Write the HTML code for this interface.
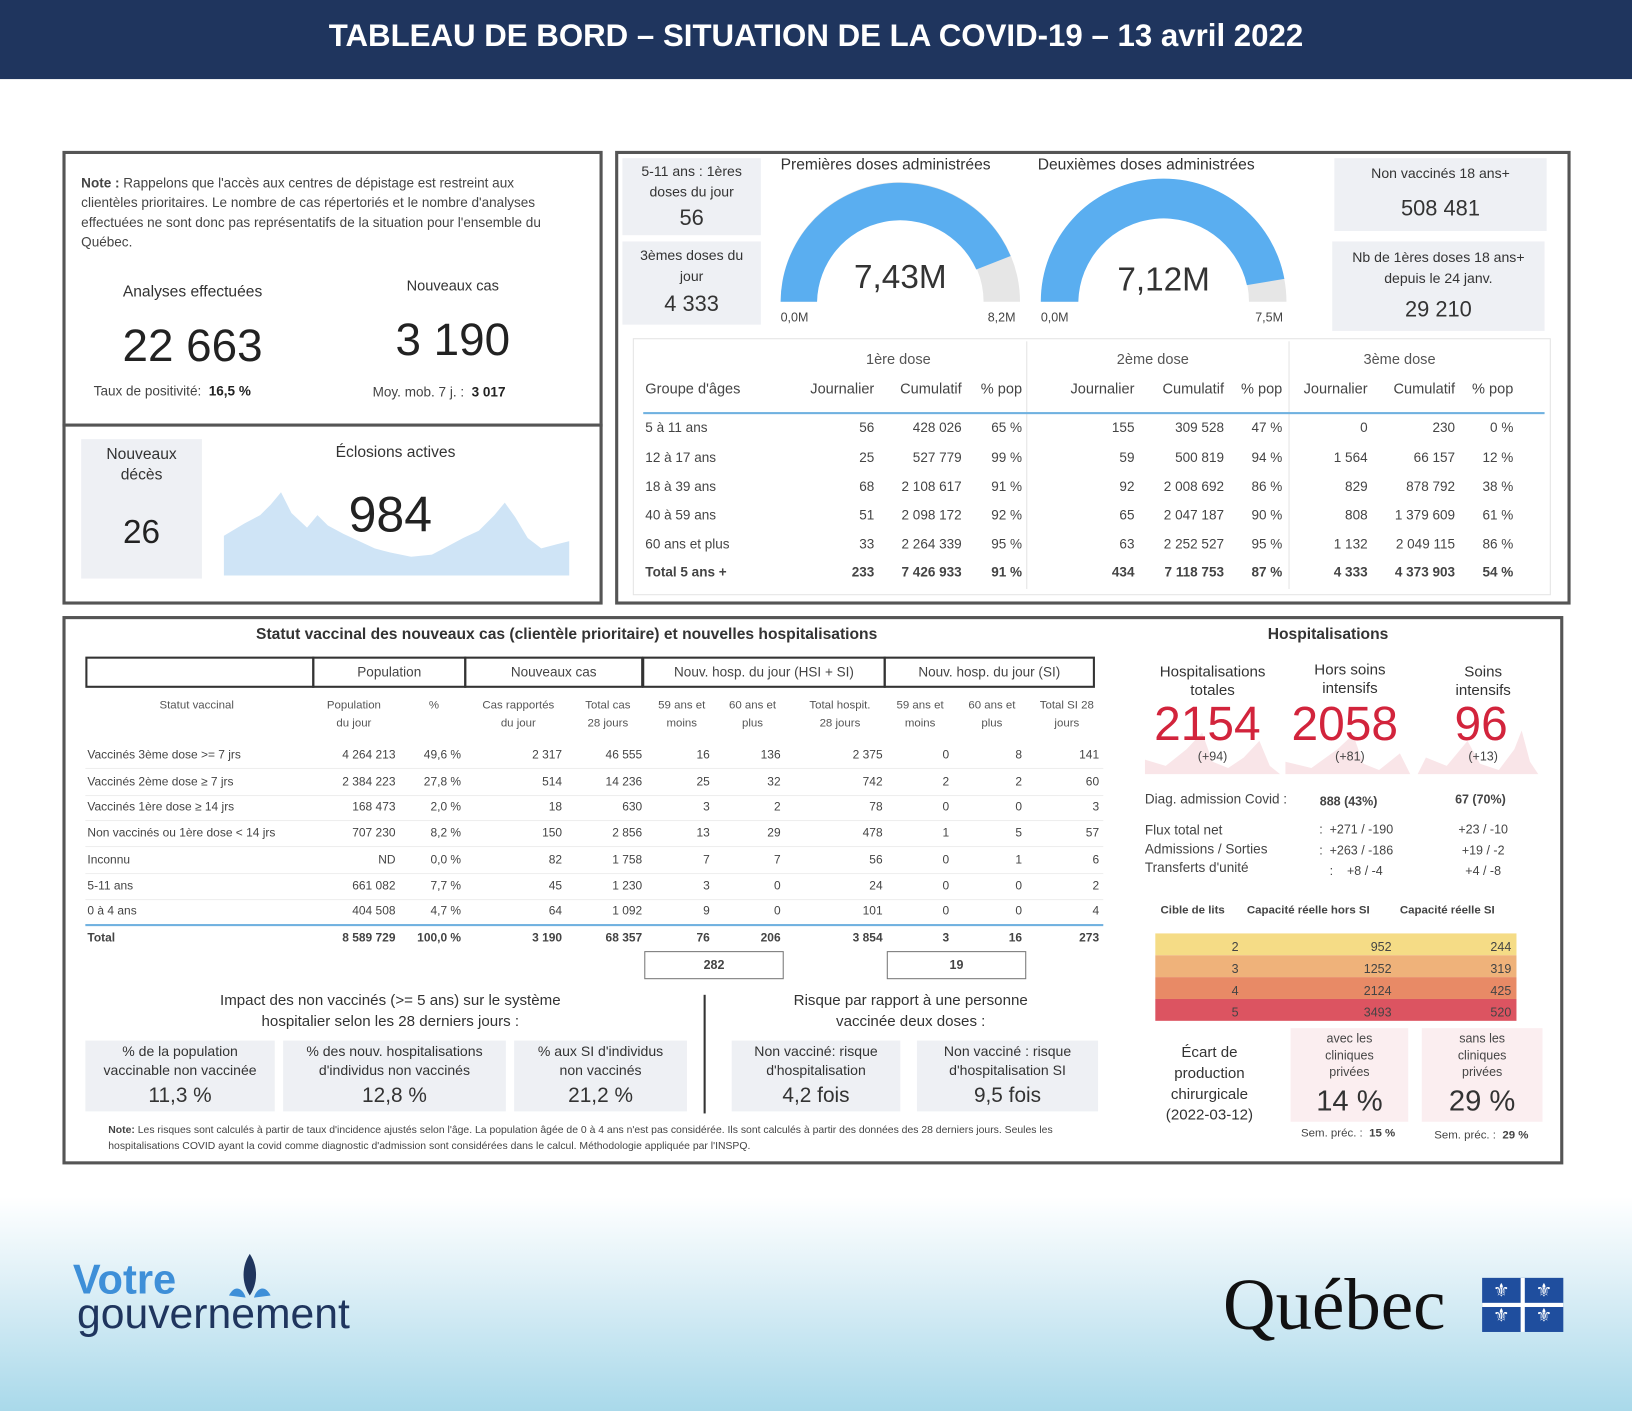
<!DOCTYPE html>
<html><head><meta charset="utf-8"><style>
*{margin:0;padding:0;box-sizing:border-box}
html,body{width:1632px;height:1411px;overflow:hidden;background:#fff}
#w{position:absolute;left:0;top:0;width:1568px;height:1356px;transform:scale(1.04082,1.0406);transform-origin:0 0;font-family:"Liberation Sans",sans-serif;color:#333;background:linear-gradient(#fff 0,#fff 1150px,#dff0f7 1230px,#a9d9ea 1356px)}
.a{position:absolute;white-space:nowrap}
.box{position:absolute;border:3px solid #555;background:#fff}
.c{text-align:center}
.r{text-align:right}
.card{position:absolute;background:#eef0f4}
.s{font-size:12px;color:#444}
</style></head><body><div id="w">
<div class="a" style="left:0;top:0;width:1568px;height:76px;background:#1f355e"></div>
<div class="a c" style="left:0;top:18px;width:1568px;color:#fff;font-weight:bold;font-size:30px">TABLEAU DE BORD – SITUATION DE LA COVID-19 – 13 avril 2022</div>

<div class="box" style="left:60px;top:145px;width:519px;height:265px"></div>
<div class="box" style="left:60px;top:407px;width:519px;height:174px"></div>
<div class="a s" style="left:78px;top:166px;white-space:normal;width:472px;line-height:19px;font-size:13px"><b>Note :</b> Rappelons que l'accès aux centres de dépistage est restreint aux clientèles prioritaires. Le nombre de cas répertoriés et le nombre d'analyses effectuées ne sont donc pas représentatifs de la situation pour l'ensemble du Québec.</div>
<div class="a c" style="left:85px;top:272px;width:200px;font-size:15px">Analyses effectuées</div>
<div class="a c" style="left:335px;top:266px;width:200px;font-size:14px">Nouveaux cas</div>
<div class="a c" style="left:85px;top:308px;width:200px;font-size:44px;color:#222">22 663</div>
<div class="a c" style="left:335px;top:302px;width:200px;font-size:44px;color:#222">3 190</div>
<div class="a s" style="left:90px;top:368px;font-size:13px">Taux de positivité: &nbsp;<b style="color:#222">16,5 %</b></div>
<div class="a s" style="left:358px;top:369px;font-size:13px">Moy. mob. 7 j. : &nbsp;<b style="color:#222">3 017</b></div>
<div class="card" style="left:78px;top:422px;width:116px;height:134px"></div>
<div class="a c" style="left:78px;top:427px;width:116px;font-size:15px;line-height:20px">Nouveaux<br>décès</div>
<div class="a c" style="left:78px;top:493px;width:116px;font-size:32px;color:#222">26</div>
<div class="a c" style="left:280px;top:426px;width:200px;font-size:15px">Éclosions actives</div>
<svg class="a" style="left:215px;top:465px" width="332" height="88"><path d="M0 88 L0 50 L20 38 L35 30 L45 20 L55 8 L65 28 L80 42 L90 30 L100 40 L115 48 L130 55 L145 62 L160 66 L180 70 L200 68 L215 60 L230 52 L245 45 L260 30 L270 18 L280 32 L292 52 L305 62 L320 58 L332 55 L332 88Z" fill="#cfe4f6"/></svg>
<div class="a c" style="left:275px;top:468px;width:200px;font-size:48px;color:#222">984</div>

<div class="box" style="left:591px;top:145px;width:918px;height:436px"></div>
<div class="card" style="left:598px;top:152px;width:133px;height:74px"></div>
<div class="a c" style="left:598px;top:155px;width:133px;font-size:13.5px;line-height:20px">5-11 ans : 1ères<br>doses du jour</div>
<div class="a c" style="left:598px;top:198px;width:133px;font-size:21px">56</div>
<div class="card" style="left:598px;top:232px;width:133px;height:80px"></div>
<div class="a c" style="left:598px;top:236px;width:133px;font-size:13.5px;line-height:20px">3èmes doses du<br>jour</div>
<div class="a c" style="left:598px;top:281px;width:133px;font-size:21px">4 333</div>
<div class="a" style="left:750px;top:150px;font-size:15px">Premières doses administrées</div>
<div class="a" style="left:997px;top:150px;font-size:15px">Deuxièmes doses administrées</div>
<svg class="a" style="left:740px;top:170px" width="500" height="130">
<path d="M10 120 A115 115 0 0 1 240 120 L205 120 A80 80 0 0 0 45 120Z" fill="#e6e6e6"/>
<path d="M10 120 A115 115 0 0 1 231 76 L198 89 A80 80 0 0 0 45 120Z" fill="#5aaef0"/>
<path d="M260 120 A118 118 0 0 1 496 120 L460 120 A82 82 0 0 0 296 120Z" fill="#e6e6e6"/>
<path d="M260 120 A118 118 0 0 1 494 98 L458 104 A82 82 0 0 0 296 120Z" fill="#5aaef0"/>
</svg>
<div class="a c" style="left:790px;top:248px;width:150px;font-size:32px">7,43M</div>
<div class="a c" style="left:1043px;top:250px;width:150px;font-size:32px">7,12M</div>
<div class="a s" style="left:750px;top:298px">0,0M</div>
<div class="a s" style="left:949px;top:298px">8,2M</div>
<div class="a s" style="left:1000px;top:298px">0,0M</div>
<div class="a s" style="left:1206px;top:298px">7,5M</div>
<div class="card" style="left:1282px;top:152px;width:204px;height:70px"></div>
<div class="a c" style="left:1282px;top:159px;width:204px;font-size:13.5px">Non vaccinés 18 ans+</div>
<div class="a c" style="left:1282px;top:189px;width:204px;font-size:21px">508 481</div>
<div class="card" style="left:1280px;top:232px;width:204px;height:86px"></div>
<div class="a c" style="left:1280px;top:238px;width:204px;font-size:13.5px;line-height:20px">Nb de 1ères doses 18 ans+<br>depuis le 24 janv.</div>
<div class="a c" style="left:1280px;top:286px;width:204px;font-size:21px">29 210</div>
<div class="a" style="left:608px;top:325px;width:882px;height:247px;border:1px solid #e4e4e4"></div>
<div class="a" style="left:986px;top:328px;width:1px;height:238px;background:#e4e4e4"></div>
<div class="a" style="left:1238px;top:328px;width:1px;height:238px;background:#e4e4e4"></div>
<div class="a" style="left:618px;top:396px;width:866px;height:2px;background:#6fb1e0"></div>
<div class="a" style="left:832px;top:337px;font-size:14px;color:#555">1ère dose</div>
<div class="a" style="left:1073px;top:337px;font-size:14px;color:#555">2ème dose</div>
<div class="a" style="left:1310px;top:337px;font-size:14px;color:#555">3ème dose</div>
<div id="t1"></div>

<div class="box" style="left:60px;top:592px;width:1442px;height:527px"></div>
<div class="a" style="left:246px;top:601px;font-size:15px;font-weight:bold;color:#333">Statut vaccinal des nouveaux cas (clientèle prioritaire) et nouvelles hospitalisations</div>
<div class="a" style="left:1218px;top:601px;font-size:15px;font-weight:bold;color:#333">Hospitalisations</div>
<div id="t2"></div>
<div class="a" style="left:82px;top:888px;width:978px;height:2px;background:#6fb1e0"></div>
<div class="a" style="left:619px;top:914px;width:134px;height:27px;border:1px solid #777"></div>
<div class="a" style="left:852px;top:914px;width:134px;height:27px;border:1px solid #777"></div>
<div class="a c s" style="left:619px;top:920px;width:134px;font-weight:bold">282</div>
<div class="a c s" style="left:852px;top:920px;width:134px;font-weight:bold">19</div>
<div class="a c" style="left:170px;top:952px;width:410px;font-size:14.5px;line-height:20px">Impact des non vaccinés (>= 5 ans) sur le système<br>hospitalier selon les 28 derniers jours :</div>
<div class="a c" style="left:720px;top:952px;width:310px;font-size:14.5px;line-height:20px">Risque par rapport à une personne<br>vaccinée deux doses :</div>
<div class="a" style="left:676px;top:956px;width:2px;height:114px;background:#333"></div>
<div class="card" style="left:82px;top:1000px;width:182px;height:68px"></div>
<div class="card" style="left:272px;top:1000px;width:214px;height:68px"></div>
<div class="card" style="left:494px;top:1000px;width:166px;height:68px"></div>
<div class="card" style="left:703px;top:1000px;width:162px;height:68px"></div>
<div class="card" style="left:881px;top:1000px;width:174px;height:68px"></div>
<div class="a c" style="left:82px;top:1002px;width:182px;font-size:13.5px;line-height:18px">% de la population<br>vaccinable non vaccinée</div>
<div class="a c" style="left:272px;top:1002px;width:214px;font-size:13.5px;line-height:18px">% des nouv. hospitalisations<br>d'individus non vaccinés</div>
<div class="a c" style="left:494px;top:1002px;width:166px;font-size:13.5px;line-height:18px">% aux SI d'individus<br>non vaccinés</div>
<div class="a c" style="left:703px;top:1002px;width:162px;font-size:13.5px;line-height:18px">Non vacciné: risque<br>d'hospitalisation</div>
<div class="a c" style="left:881px;top:1002px;width:174px;font-size:13.5px;line-height:18px">Non vacciné : risque<br>d'hospitalisation SI</div>
<div class="a c" style="left:82px;top:1042px;width:182px;font-size:20px">11,3 %</div>
<div class="a c" style="left:272px;top:1042px;width:214px;font-size:20px">12,8 %</div>
<div class="a c" style="left:494px;top:1042px;width:166px;font-size:20px">21,2 %</div>
<div class="a c" style="left:703px;top:1042px;width:162px;font-size:20px">4,2 fois</div>
<div class="a c" style="left:881px;top:1042px;width:174px;font-size:20px">9,5 fois</div>
<div class="a" style="left:104px;top:1079px;width:970px;white-space:normal;font-size:10px;line-height:15px;color:#444"><b>Note:</b> Les risques sont calculés à partir de taux d'incidence ajustés selon l'âge. La population âgée de 0 à 4 ans n'est pas considérée. Ils sont calculés à partir des données des 28 derniers jours. Seules les hospitalisations COVID ayant la covid comme diagnostic d'admission sont considérées dans le calcul. Méthodologie appliquée par l'INSPQ.</div>

<svg class="a" style="left:1100px;top:690px" width="380" height="54"><path d="M0 54 L0 40 L20 46 L40 30 L55 14 L65 42 L80 48 L95 38 L110 22 L120 46 L130 54Z M135 54 L135 42 L160 48 L185 30 L200 16 L210 44 L225 50 L245 34 L255 54Z M262 54 L270 38 L290 46 L310 22 L322 44 L340 50 L355 30 L362 12 L370 42 L378 54Z" fill="#f8dfe2" opacity="0.8"/></svg>
<div class="a c" style="left:1100px;top:637px;width:130px;font-size:14.5px;line-height:18px">Hospitalisations<br>totales</div>
<div class="a c" style="left:1232px;top:635px;width:130px;font-size:14.5px;line-height:18px">Hors soins<br>intensifs</div>
<div class="a c" style="left:1370px;top:637px;width:110px;font-size:14.5px;line-height:18px">Soins<br>intensifs</div>
<div class="a c" style="left:1095px;top:668px;width:130px;font-size:46px;color:#d2243c">2154</div>
<div class="a c" style="left:1227px;top:668px;width:130px;font-size:46px;color:#d2243c">2058</div>
<div class="a c" style="left:1368px;top:668px;width:110px;font-size:46px;color:#d2243c">96</div>
<div class="a c s" style="left:1100px;top:720px;width:130px">(+94)</div>
<div class="a c s" style="left:1232px;top:720px;width:130px">(+81)</div>
<div class="a c s" style="left:1370px;top:720px;width:110px">(+13)</div>
<div class="a s" style="left:1100px;top:760px;font-size:13px">Diag. admission Covid :</div>
<div class="a s" style="left:1268px;top:763px;font-weight:bold">888 (43%)</div>
<div class="a s" style="left:1398px;top:761px;font-weight:bold">67 (70%)</div>
<div class="a s" style="left:1100px;top:789px;font-size:13px;line-height:18px">Flux total net<br>Admissions / Sorties<br>Transferts d'unité</div>
<div class="a s c" style="left:1248px;top:787px;width:110px;line-height:20px">: &nbsp;+271 / -190<br>: &nbsp;+263 / -186<br>: &nbsp; &nbsp;+8 / -4</div>
<div class="a s c" style="left:1380px;top:787px;width:90px;line-height:20px">+23 / -10<br>+19 / -2<br>+4 / -8</div>
<div class="a s" style="left:1115px;top:869px;font-weight:bold;font-size:11px">Cible de lits</div>
<div class="a s" style="left:1198px;top:869px;font-weight:bold;font-size:11px">Capacité réelle hors SI</div>
<div class="a s" style="left:1345px;top:869px;font-weight:bold;font-size:11px">Capacité réelle SI</div>
<div class="a" style="left:1110px;top:897px;width:347px;height:21px;background:#f5dc86"></div>
<div class="a" style="left:1110px;top:918px;width:347px;height:21px;background:#efb27a"></div>
<div class="a" style="left:1110px;top:939px;width:347px;height:21px;background:#e88a66"></div>
<div class="a" style="left:1110px;top:960px;width:347px;height:21px;background:#dc5461"></div>
<div class="a s r" style="left:1110px;top:900px;width:80px;line-height:21px">2<br>3<br>4<br>5</div>
<div class="a s r" style="left:1200px;top:900px;width:137px;line-height:21px">952<br>1252<br>2124<br>3493</div>
<div class="a s r" style="left:1340px;top:900px;width:112px;line-height:21px">244<br>319<br>425<br>520</div>
<div class="a c" style="left:1098px;top:1002px;width:128px;font-size:14.5px;line-height:20px">Écart de<br>production<br>chirurgicale<br>(2022-03-12)</div>
<div class="card" style="left:1240px;top:988px;width:113px;height:90px;background:#fbeef0"></div>
<div class="card" style="left:1366px;top:988px;width:116px;height:90px;background:#fbeef0"></div>
<div class="a c s" style="left:1240px;top:990px;width:113px;line-height:16px">avec les<br>cliniques<br>privées</div>
<div class="a c s" style="left:1366px;top:990px;width:116px;line-height:16px">sans les<br>cliniques<br>privées</div>
<div class="a c" style="left:1240px;top:1042px;width:113px;font-size:28px">14 %</div>
<div class="a c" style="left:1366px;top:1042px;width:116px;font-size:28px">29 %</div>
<div class="a s" style="left:1250px;top:1083px;font-size:11px">Sem. préc. : &nbsp;<b>15 %</b></div>
<div class="a s" style="left:1378px;top:1085px;font-size:11px">Sem. préc. : &nbsp;<b>29 %</b></div>

<div class="a" style="left:70px;top:1213px;font-size:40px;color:#3e8fd8;font-weight:bold;line-height:34px">Votre</div>
<div class="a" style="left:74px;top:1245px;font-size:41px;color:#1f355e;line-height:34px">gouvernement</div>
<svg class="a" style="left:210px;top:1203px" width="60" height="50"><path d="M30 2 C22 14 22 30 30 42 C38 30 38 14 30 2Z" fill="#1f355e"/><path d="M10 42 C16 30 24 36 26 44Z M50 42 C44 30 36 36 34 44Z" fill="#3e8fd8"/></svg>
<div class="a" style="left:1175px;top:1215px;font-family:'Liberation Serif',serif;font-size:70px;color:#111;line-height:80px">Québec</div>
<div class="a" style="left:1424px;top:1228px;width:78px;height:52px;background:#1f4e9e"></div>
<div class="a" style="left:1461px;top:1228px;width:4px;height:52px;background:#fff"></div>
<div class="a" style="left:1424px;top:1252px;width:78px;height:4px;background:#fff"></div>
<div class="a c" style="left:1424px;top:1228px;width:37px;color:#fff;font-size:18px;line-height:24px">⚜<br>⚜</div>
<div class="a c" style="left:1465px;top:1228px;width:37px;color:#fff;font-size:18px;line-height:24px">⚜<br>⚜</div>
</div>
<script>
function put(id,cols,rows,tops,hdr){
 let h='';
 rows.forEach((r,i)=>{r.forEach((v,j)=>{const c=cols[j];
  h+=`<div class="a" style="left:${c[0]}px;top:${tops[i]}px;width:${c[1]}px;text-align:${c[2]};font-size:${hdr&&i==0?hdr:13}px;color:#444;${r.bold?'font-weight:bold;':''}">${v}</div>`;});});
 document.getElementById(id).outerHTML=h;
}
const c1=[[620,140,'left'],[740,100,'right'],[820,104,'right'],[926,56,'right'],[990,100,'right'],[1080,96,'right'],[1180,52,'right'],[1240,74,'right'],[1320,78,'right'],[1400,54,'right']];
const r1=[['Groupe d\'âges','Journalier','Cumulatif','% pop','Journalier','Cumulatif','% pop','Journalier','Cumulatif','% pop'],
['5 à 11 ans','56','428 026','65 %','155','309 528','47 %','0','230','0 %'],
['12 à 17 ans','25','527 779','99 %','59','500 819','94 %','1 564','66 157','12 %'],
['18 à 39 ans','68','2 108 617','91 %','92','2 008 692','86 %','829','878 792','38 %'],
['40 à 59 ans','51','2 098 172','92 %','65','2 047 187','90 %','808','1 379 609','61 %'],
['60 ans et plus','33','2 264 339','95 %','63','2 252 527','95 %','1 132','2 049 115','86 %'],
['Total 5 ans +','233','7 426 933','91 %','434','7 118 753','87 %','4 333','4 373 903','54 %']];
r1[6].bold=1;
put('t1',c1,r1,[365,403,432,460,487,515,542],14);
</script>
<script>
(function(){
let h='';
const box=(l,t,w,hh,txt)=>`<div class="a c" style="left:${l}px;top:${t}px;width:${w}px;height:${hh}px;border:2px solid #333;font-size:13px;line-height:26px;color:#444">${txt}</div>`;
h+=box(82,631,220,30,'')+box(300,631,148,30,'Population')+box(446,631,172,30,'Nouveaux cas')+box(617,631,234,30,'Nouv. hosp. du jour (HSI + SI)')+box(849,631,203,30,'Nouv. hosp. du jour (SI)');
const cols=[[84,210,'left'],[300,80,'right'],[385,58,'right'],[450,90,'right'],[545,72,'right'],[622,60,'right'],[690,60,'right'],[760,88,'right'],[850,62,'right'],[918,64,'right'],[988,68,'right']];
const hd=['Statut vaccinal','Population<br>du jour','%','Cas rapportés<br>du jour','Total cas<br>28 jours','59 ans et<br>moins','60 ans et<br>plus','Total hospit.<br>28 jours','59 ans et<br>moins','60 ans et<br>plus','Total SI 28<br>jours'];
hd.forEach((v,j)=>{const c=cols[j];h+=`<div class="a c" style="left:${c[0]}px;top:670px;width:${j==0?210:c[1]+(j==1?0:6)}px;font-size:11px;line-height:17px;color:#555">${v}</div>`;});
const rows=[['Vaccinés 3ème dose >= 7 jrs','4 264 213','49,6 %','2 317','46 555','16','136','2 375','0','8','141'],
['Vaccinés 2ème dose ≥ 7 jrs','2 384 223','27,8 %','514','14 236','25','32','742','2','2','60'],
['Vaccinés 1ère dose ≥ 14 jrs','168 473','2,0 %','18','630','3','2','78','0','0','3'],
['Non vaccinés ou 1ère dose < 14 jrs','707 230','8,2 %','150','2 856','13','29','478','1','5','57'],
['Inconnu','ND','0,0 %','82','1 758','7','7','56','0','1','6'],
['5-11 ans','661 082','7,7 %','45','1 230','3','0','24','0','0','2'],
['0 à 4 ans','404 508','4,7 %','64','1 092','9','0','101','0','0','4'],
['Total','8 589 729','100,0 %','3 190','68 357','76','206','3 854','3','16','273']];
const tops=[720,746,770,795,821,846,870,896];
rows.forEach((r,i)=>r.forEach((v,j)=>{const c=cols[j];h+=`<div class="a" style="left:${c[0]}px;top:${tops[i]}px;width:${c[1]}px;text-align:${c[2]};font-size:11.5px;color:#444;${i==7?'font-weight:bold;':''}">${v.replace('<','&lt;')}</div>`;}));
tops.slice(0,7).forEach(t=>{h+=`<div class="a" style="left:82px;top:${t+18}px;width:978px;height:1px;background:#eee"></div>`});
document.getElementById('t2').outerHTML=h;
})();
</script>
</body></html>
